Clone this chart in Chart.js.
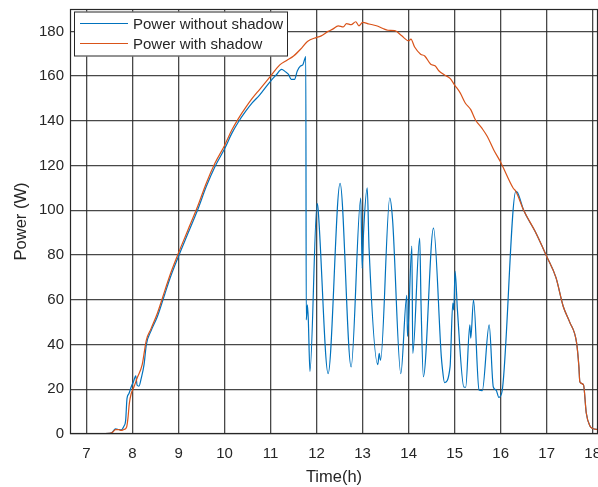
<!DOCTYPE html>
<html>
<head>
<meta charset="utf-8">
<script src="https://cdn.jsdelivr.net/npm/chart.js@4.4.0/dist/chart.umd.min.js"></script>
<style>
    body { margin: 0; background: #fff; }
    #wrap { width: 598px; height: 487px; }
</style>
</head>
<body>
<div id="wrap"><canvas id="chart_1" width="598" height="487"></canvas></div>
<script>
// Eixos
const xTicks = [7, 8, 9, 10, 11, 12, 13, 14, 15, 16, 17, 18];
const yTicks = [0, 20, 40, 60, 80, 100, 120, 140, 160, 180];

// Power with shadow (laranja)
const horasLaranja = [6.64, 7.0, 7.5, 7.56, 7.63, 7.7, 7.75, 7.81, 7.87, 7.9, 7.93, 7.97, 8.03, 8.1, 8.21, 8.3, 8.4, 8.54, 8.7, 8.83,
    9.0, 9.2, 9.42, 9.6, 9.79, 10.0, 10.16, 10.3, 10.46, 10.6, 10.76, 11.0, 11.2, 11.35, 11.5, 11.65, 11.8, 12.0, 12.1, 12.25,
    12.35, 12.47, 12.58, 12.65, 12.75, 12.85, 12.92, 13.0, 13.14, 13.3, 13.44, 13.55, 13.7, 13.85, 14.0, 14.05, 14.13, 14.26, 14.35, 14.48,
    14.58, 14.65, 14.78, 14.9, 15.0, 15.12, 15.23, 15.35, 15.45, 15.6, 15.71, 15.85, 16.0, 16.27, 16.33, 16.5, 16.75, 17.0, 17.2, 17.36,
    17.5, 17.65, 17.7, 17.72, 17.8, 17.86, 17.94, 18.0, 18.115];
const potLaranja = [0, 0, 0.3, 0.7, 2, 2, 1.6, 2, 3, 7, 13.6, 18, 21, 25, 31, 42, 47, 54, 64, 72,
    81, 91, 102, 112, 121, 129, 136, 141, 146, 150, 154, 160, 165, 167, 169, 172, 175.5, 177.3, 178, 180,
    181, 182.5, 182, 183.5, 183, 184.3, 182.5, 184, 183.3, 182.5, 181.3, 180.5, 180.3, 178, 175.8, 176.5, 173, 169.8, 169, 165.3,
    164.5, 162.5, 160.5, 159, 156, 152.5, 148, 145, 140.5, 136.5, 133, 127, 121.5, 110, 108.5, 100, 90.5, 79.4, 70, 57,
    50, 40.7, 30, 23.4, 22, 9.4, 3.6, 2.5, 2];

// Power without shadow (azul)
const horasAzul = [6.64, 7.0, 7.5, 7.56, 7.63, 7.7, 7.75, 7.81, 7.85, 7.88, 7.92, 7.97, 8.02, 8.07, 8.1, 8.14, 8.19, 8.25, 8.3, 8.4,
    8.54, 8.7, 8.83, 9.0, 9.2, 9.42, 9.6, 9.79, 10.0, 10.16, 10.3, 10.46, 10.6, 10.76, 11.0, 11.12, 11.24, 11.32, 11.39, 11.45,
    11.52, 11.58, 11.65, 11.7, 11.74, 11.765, 11.775, 11.8, 11.82, 11.855, 12.01, 12.03, 12.25, 12.51, 12.75, 12.96, 12.99, 13.02, 13.1, 13.14,
    13.33, 13.36, 13.39, 13.59, 13.65, 13.83, 13.96, 13.975, 14.07, 14.09, 14.24, 14.27, 14.32, 14.54, 14.71, 14.73, 14.78, 14.9, 14.96, 14.98,
    15.01, 15.06, 15.2, 15.24, 15.33, 15.35, 15.41, 15.53, 15.6, 15.75, 15.84, 15.9, 15.96, 16.03, 16.33, 16.37, 16.5, 16.75, 17.0, 17.2,
    17.36, 17.5, 17.65, 17.7, 17.72, 17.8, 17.86, 17.94, 18.0, 18.115];
const potAzul = [0, 0, 0.3, 0.8, 2.3, 2, 1.8, 3.4, 6, 15.9, 18, 21, 23.4, 26, 21.8, 21.4, 25, 31, 40, 46,
    52.5, 62.5, 70.5, 79.5, 89.5, 100.5, 110.5, 119.5, 127.5, 134.5, 139.5, 144.3, 148, 151.5, 157.8, 160.5, 163, 162, 160.8, 158.5,
    158.5, 162.3, 164.5, 165, 167.5, 168.7, 51, 57.7, 51, 28, 103, 101, 27, 112, 30, 105.5, 74, 90, 110, 83,
    31, 36, 33, 105.5, 96, 27, 62, 43.6, 84, 36, 87.6, 57.7, 25.6, 92, 34.6, 30, 23, 30, 58.5, 55.5,
    72.7, 55.5, 21, 20.9, 48.8, 42.8, 60, 19.7, 19.4, 48.8, 21, 19.7, 16.4, 19, 108.5, 107.8, 100, 90.5, 79.4, 70,
    57, 50, 40.7, 30, 23.4, 22, 9.4, 3.6, 2.5, 2];

function pares(xs, ys) {
    return xs.map((x, i) => ({ x: x, y: ys[i] }));
}

const corTexto = '#262626';
const corGrade = 'rgba(40, 40, 40, 0.85)';

// legenda dentro da área do gráfico, como no MATLAB
const legendaInterna = {
    id: 'legendaInterna',
    afterDraw(chart) {
        const ctx = chart.ctx;
        const area = chart.chartArea;
        const x0 = area.left + 4, y0 = area.top + 2.5;
        ctx.save();
        ctx.fillStyle = '#fff';
        ctx.fillRect(x0, y0, 214, 45);
        ctx.strokeStyle = corTexto;
        ctx.lineWidth = 1;
        ctx.strokeRect(x0 + 0.5, y0 + 0.5, 213, 44);
        ctx.font = '15px "Liberation Sans", Arial, sans-serif';
        ctx.textBaseline = 'middle';
        chart.data.datasets.forEach((ds, i) => {
            const y = y0 + 12 + i * 20;
            ctx.strokeStyle = ds.borderColor;
            ctx.lineWidth = 1.2;
            ctx.beginPath();
            ctx.moveTo(x0 + 6, y);
            ctx.lineTo(x0 + 54, y);
            ctx.stroke();
            ctx.fillStyle = corTexto;
            ctx.fillText(ds.label, x0 + 59, y + 1);
        });
        // caixa dos eixos
        ctx.strokeStyle = corTexto;
        ctx.strokeRect(area.left + 0.5, area.top + 0.5, area.right - area.left - 1, area.bottom - area.top - 1);
        ctx.restore();
    }
};

const chart_1 = document.getElementById('chart_1').getContext('2d');
const chart1 = new Chart(chart_1, {
    type: 'line',
    data: {
        datasets: [{
            label: 'Power without shadow',
            data: pares(horasAzul, potAzul),
            borderColor: '#0072BD',
            borderWidth: 1.2,
            pointRadius: 0,
            cubicInterpolationMode: 'monotone',
            order: 1
        }, {
            label: 'Power with shadow',
            data: pares(horasLaranja, potLaranja),
            borderColor: '#D95319',
            borderWidth: 1.2,
            pointRadius: 0,
            cubicInterpolationMode: 'monotone',
            order: 0
        }]
    },
    options: {
        responsive: false,
        animation: false,
        layout: { padding: { top: 9, left: 0, right: 0, bottom: 0 } },
        plugins: { legend: { display: false }, tooltip: { enabled: false } },
        scales: {
            x: {
                type: 'linear',
                min: 6.641,
                max: 18.115,
                afterBuildTicks: (s) => { s.ticks = xTicks.map(v => ({ value: v })); },
                afterFit: (s) => { s.height = 53; s.paddingLeft = 0; s.paddingRight = 0; },
                grid: { color: corGrade, lineWidth: 1.3, drawTicks: false },
                border: { display: false },
                ticks: {
                    padding: 11,
                    maxRotation: 0,
                    color: corTexto,
                    font: { family: '"Liberation Sans", Arial, sans-serif', size: 15 }
                },
                title: {
                    display: true,
                    text: 'Time(h)',
                    color: corTexto,
                    padding: { top: 0, bottom: 0 },
                    font: { family: '"Liberation Sans", Arial, sans-serif', size: 16.5 }
                }
            },
            y: {
                min: 0,
                max: 190,
                afterBuildTicks: (s) => { s.ticks = yTicks.map(v => ({ value: v })); },
                afterFit: (s) => { s.width = 70; s.paddingTop = 0; s.paddingBottom = 0; },
                grid: { color: corGrade, lineWidth: 1.3, drawTicks: false },
                border: { display: false },
                ticks: {
                    padding: 6,
                    color: corTexto,
                    font: { family: '"Liberation Sans", Arial, sans-serif', size: 15 }
                },
                title: {
                    display: true,
                    text: 'Power (W)',
                    color: corTexto,
                    padding: { top: 12, bottom: 0 },
                    font: { family: '"Liberation Sans", Arial, sans-serif', size: 16.5 }
                }
            }
        }
    },
    plugins: [legendaInterna]
});
</script>
</body>
</html>
